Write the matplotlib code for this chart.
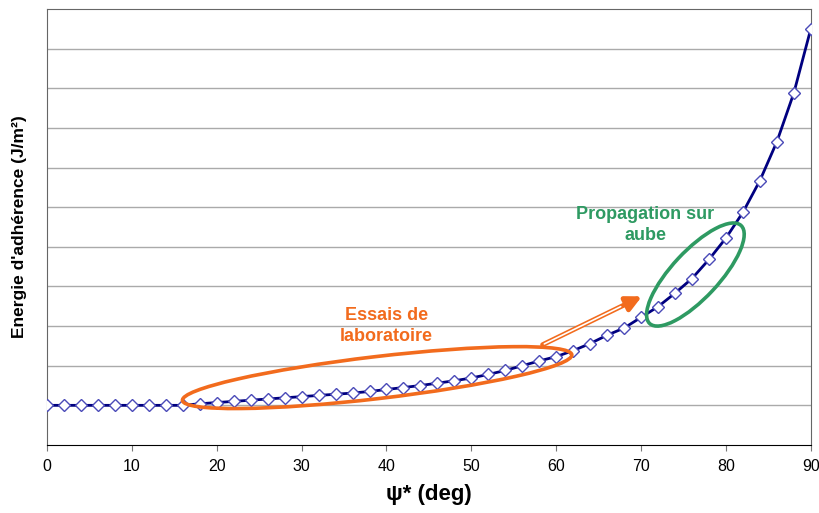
import matplotlib.pyplot as plt
from matplotlib.patches import Ellipse
from matplotlib.transforms import ScaledTranslation

plt.rcParams["font.family"] = ["Liberation Sans", "DejaVu Sans"]

# angle psi* (deg), every 2 degrees
psi = list(range(0, 92, 2))
# adhesion energy (arbitrary units, one grid step = 1)
energy = [1.00, 1.00, 1.00, 1.00, 1.00, 1.00, 1.00, 1.00, 1.00,
          1.04, 1.07, 1.10, 1.13, 1.16, 1.19, 1.22, 1.25, 1.28,
          1.31, 1.35, 1.40, 1.45, 1.50, 1.56, 1.62, 1.69, 1.78,
          1.88, 2.00, 2.12, 2.23, 2.38, 2.56, 2.77, 2.95, 3.22,
          3.49, 3.83, 4.20, 4.68, 5.22, 5.87, 6.67, 7.65, 8.88, 10.50]

orange = "#f26b1d"
green = "#2e9a62"

fig = plt.figure(figsize=(8.19, 5.13), dpi=100)
ax = fig.add_axes([0.0574, 0.1326, 0.9326, 0.8499])

ax.plot(psi, energy, color="#000080", lw=2, marker="D", markersize=6,
        markerfacecolor="white", markeredgecolor="#4a4ab8", markeredgewidth=1,
        zorder=5)

ax.set_xlim(0, 90)
ax.set_ylim(0, 11)
ax.set_xticks(range(0, 100, 10))
ax.set_yticks(range(1, 11))
ax.set_yticklabels([])
ax.tick_params(axis="y", length=0)
ax.tick_params(axis="x", direction="out", length=4, color="#777777",
               labelsize=11.5, pad=6)
ax.grid(axis="y", color="#aaaaaa", lw=1)
ax.set_axisbelow(True)
for side in ["top", "right", "left"]:
    ax.spines[side].set_color("#666666")
ax.spines["bottom"].set_color("black")

ax.set_xlabel("ψ* (deg)", fontsize=16, fontweight="bold", labelpad=7)
ax.set_ylabel("Energie d'adhérence (J/m²)", fontsize=12.5, fontweight="bold",
              labelpad=11)


def ring(cx, cy, w, h, angle, color):
    tr = fig.dpi_scale_trans + ScaledTranslation(cx, cy, ax.transData)
    e = Ellipse((0, 0), w, h, angle=angle, transform=tr, fill=False,
                edgecolor=color, lw=2.6, zorder=6)
    ax.add_patch(e)


# laboratory tests and blade propagation regions
ring(38.9, 1.70, 3.92, 0.42, 6.7, orange)
ring(76.4, 4.30, 1.34, 0.47, 47, green)

ax.text(40.0, 3.0, "Essais de\nlaboratoire", color=orange, fontsize=13,
        fontweight="bold", ha="center", va="center", linespacing=1.25)
ax.text(70.5, 5.55, "Propagation sur\naube", color=green, fontsize=13,
        fontweight="bold", ha="center", va="center", linespacing=1.25)

# hollow orange arrow
ax.annotate("", xy=(70.1, 3.75), xytext=(58.4, 2.53),
            arrowprops=dict(arrowstyle="-|>,head_length=0.9,head_width=0.45",
                            color=orange, lw=3.5, shrinkA=0, shrinkB=0),
            zorder=7)
ax.annotate("", xy=(67.6, 3.49), xytext=(58.6, 2.55),
            arrowprops=dict(arrowstyle="-", color="white", lw=1.2,
                            shrinkA=0, shrinkB=0),
            zorder=8)

fig.savefig("out.png", dpi=100)
